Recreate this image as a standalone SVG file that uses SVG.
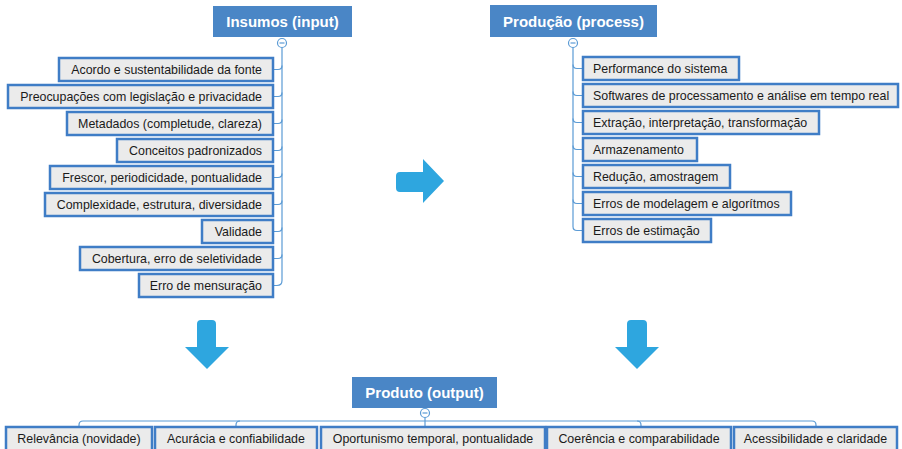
<svg xmlns="http://www.w3.org/2000/svg" width="902" height="449" viewBox="0 0 902 449">
<style>
.hdr rect{fill:#4a86c6;}
.hdr text{fill:#fff;font:bold 15px "Liberation Sans",Arial,sans-serif;text-anchor:middle;}
.box rect{fill:#ebebeb;stroke:#3f7dc6;stroke-width:2.5;}
.box text{fill:#1a1a1a;font:12.4px "Liberation Sans",Arial,sans-serif;}
.l text{text-anchor:end;}
.r text{text-anchor:start;}
.b text{text-anchor:middle;}
.con path,.con line{fill:none;stroke:#5b9bd5;stroke-width:1.2;}
.tog circle{fill:#fff;stroke:#5b9bd5;stroke-width:1.2;}
.tog line{stroke:#5b9bd5;stroke-width:1.2;}
.arr{fill:#2ea6df;}
</style>
<rect width="902" height="449" fill="#fff"/>

<g id="connectors" class="con">
  <!-- left trunk -->
  <path d="M282,47.5 V280.5 Q282,285.5 277,285.5 H274"/>
  <path d="M282,65.5 Q282,69.5 278,69.5 H274"/>
  <path d="M282,92.5 Q282,96.5 278,96.5 H274"/>
  <path d="M282,119.5 Q282,123.5 278,123.5 H274"/>
  <path d="M282,146.5 Q282,150.5 278,150.5 H274"/>
  <path d="M282,173.5 Q282,177.5 278,177.5 H274"/>
  <path d="M282,200.5 Q282,204.5 278,204.5 H274"/>
  <path d="M282,227.5 Q282,231.5 278,231.5 H274"/>
  <path d="M282,254.5 Q282,258.5 278,258.5 H274"/>
  <!-- right trunk -->
  <path d="M573,47.5 V226.5 Q573,230.5 577,230.5 H582"/>
  <path d="M573,64.5 Q573,68.5 577,68.5 H582"/>
  <path d="M573,91.5 Q573,95.5 577,95.5 H582"/>
  <path d="M573,118.5 Q573,122.5 577,122.5 H582"/>
  <path d="M573,145.5 Q573,149.5 577,149.5 H582"/>
  <path d="M573,172.5 Q573,176.5 577,176.5 H582"/>
  <path d="M573,199.5 Q573,203.5 577,203.5 H582"/>
  <!-- bottom -->
  <path d="M425,417.5 V427"/>
  <path d="M79,427 V425 Q79,421 83,421 H812 Q816,421 816,425 V427"/>
  <path d="M236,427 V425 Q236,421 240,421"/>
  <path d="M641,427 V425 Q641,421 637,421"/>
</g>

<g id="insumos" class="hdr"><rect x="213" y="6" width="139" height="31"/><text x="282.5" y="27">Insumos (input)</text></g>
<g id="producao" class="hdr"><rect x="490" y="5" width="167" height="32"/><text x="573.5" y="27">Produção (process)</text></g>
<g id="produto" class="hdr"><rect x="352" y="377" width="145" height="31"/><text x="424.5" y="398">Produto (output)</text></g>

<g class="tog">
  <g id="tog-insumos"><circle cx="282" cy="43" r="4.5"/><line x1="279.5" y1="43" x2="284.5" y2="43"/></g>
  <g id="tog-producao"><circle cx="573" cy="43" r="4.5"/><line x1="570.5" y1="43" x2="575.5" y2="43"/></g>
  <g id="tog-produto"><circle cx="425" cy="413" r="4.5"/><line x1="422.5" y1="413" x2="427.5" y2="413"/></g>
</g>

<g class="box l">
  <g id="in1"><rect x="59" y="58" width="214" height="23"/><text x="262" y="74">Acordo e sustentabilidade da fonte</text></g>
  <g id="in2"><rect x="8" y="85" width="265" height="23"/><text x="262" y="101">Preocupações com legislação e privacidade</text></g>
  <g id="in3"><rect x="67" y="112" width="206" height="23"/><text x="262" y="128">Metadados (completude, clareza)</text></g>
  <g id="in4"><rect x="117" y="139" width="156" height="23"/><text x="262" y="155">Conceitos padronizados</text></g>
  <g id="in5"><rect x="50" y="166" width="223" height="23"/><text x="262" y="182">Frescor, periodicidade, pontualidade</text></g>
  <g id="in6"><rect x="45" y="193" width="228" height="23"/><text x="262" y="209">Complexidade, estrutura, diversidade</text></g>
  <g id="in7"><rect x="202" y="220" width="71" height="23"/><text x="262" y="236">Validade</text></g>
  <g id="in8"><rect x="80" y="247" width="193" height="23"/><text x="262" y="263">Cobertura, erro de seletividade</text></g>
  <g id="in9"><rect x="139" y="274" width="134" height="23"/><text x="262" y="290">Erro de mensuração</text></g>
</g>

<g class="box r">
  <g id="pr1"><rect x="583" y="57" width="156" height="23"/><text x="593" y="73">Performance do sistema</text></g>
  <g id="pr2"><rect x="583" y="84" width="315" height="23"/><text x="593" y="100">Softwares de processamento e análise em tempo real</text></g>
  <g id="pr3"><rect x="583" y="111" width="236" height="23"/><text x="593" y="127">Extração, interpretação, transformação</text></g>
  <g id="pr4"><rect x="583" y="138" width="114" height="23"/><text x="593" y="154">Armazenamento</text></g>
  <g id="pr5"><rect x="583" y="165" width="147" height="23"/><text x="593" y="181">Redução, amostragem</text></g>
  <g id="pr6"><rect x="583" y="192" width="208" height="23"/><text x="593" y="208">Erros de modelagem e algorítmos</text></g>
  <g id="pr7"><rect x="583" y="219" width="128" height="23"/><text x="593" y="235">Erros de estimação</text></g>
</g>

<g class="box b">
  <g id="ou1"><rect x="6" y="427" width="146" height="26"/><text x="79" y="443">Relevância (novidade)</text></g>
  <g id="ou2"><rect x="155" y="427" width="162" height="26"/><text x="236" y="443">Acurácia e confiabilidade</text></g>
  <g id="ou3"><rect x="321" y="427" width="224" height="26"/><text x="433" y="443">Oportunismo temporal, pontualidade</text></g>
  <g id="ou4"><rect x="547" y="427" width="184" height="26"/><text x="639" y="443">Coerência e comparabilidade</text></g>
  <g id="ou5"><rect x="734" y="427" width="163" height="26"/><text x="815.5" y="443">Acessibilidade e claridade</text></g>
</g>

<g id="arrows">
  <path class="arr" d="M400,172 H423 V159 L444,181 L423,203 V192 H400 Q396,192 396,188 V176 Q396,172 400,172 Z"/>
  <path class="arr" d="M201,320 H212 Q216,320 216,324 V347 H229 L207,369 L185,347 H197 V324 Q197,320 201,320 Z"/>
  <path class="arr" d="M631,320 H643 Q647,320 647,324 V347 H659 L637,369 L615,347 H627 V324 Q627,320 631,320 Z"/>
</g>
</svg>
